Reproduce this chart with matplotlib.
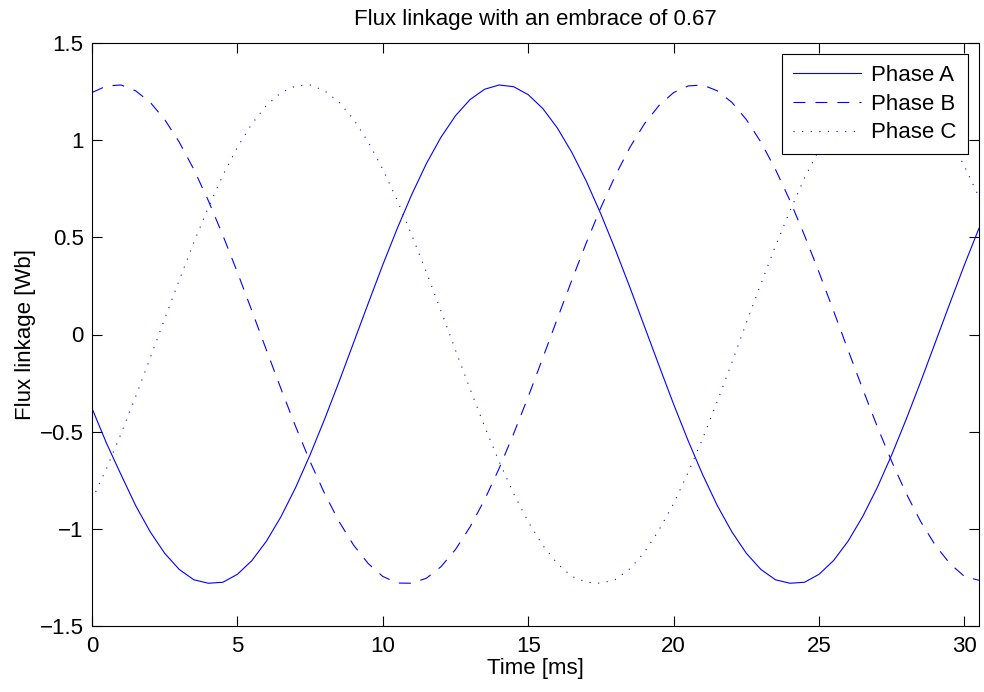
#!/usr/bin/env python
# coding: utf-8

import matplotlib
matplotlib.use('Agg')
import matplotlib.pyplot as plt
from matplotlib.ticker import FuncFormatter, FixedLocator

time_ms = [0.0, 0.5, 1.0, 1.5, 2.0, 2.5, 3.0, 3.5, 4.0, 4.5,
           5.0, 5.5, 6.0, 6.5, 7.0, 7.5, 8.0, 8.5, 9.0, 9.5,
           10.0, 10.5, 11.0, 11.5, 12.0, 12.5, 13.0, 13.5, 14.0, 14.5,
           15.0, 15.5, 16.0, 16.5, 17.0, 17.5, 18.0, 18.5, 19.0, 19.5,
           20.0, 20.5, 21.0, 21.5, 22.0, 22.5, 23.0, 23.5, 24.0, 24.5,
           25.0, 25.5, 26.0, 26.5, 27.0, 27.5, 28.0, 28.5, 29.0, 29.5,
           30.0, 30.5]

# flux linkage [Wb]
phase_a = [-0.380, -0.560, -0.722, -0.880, -1.015, -1.126, -1.209, -1.262, -1.280, -1.275,
           -1.234, -1.163, -1.063, -0.937, -0.788, -0.619, -0.435, -0.241, -0.040, 0.161,
           0.359, 0.547, 0.722, 0.880, 1.015, 1.126, 1.209, 1.262, 1.284, 1.275,
           1.234, 1.163, 1.063, 0.937, 0.788, 0.619, 0.435, 0.241, 0.040, -0.161,
           -0.359, -0.547, -0.722, -0.880, -1.015, -1.126, -1.209, -1.262, -1.280, -1.275,
           -1.234, -1.163, -1.063, -0.937, -0.788, -0.619, -0.435, -0.241, -0.040, 0.161,
           0.359, 0.547]

phase_b = [1.245, 1.279, 1.284, 1.254, 1.195, 1.106, 0.990, 0.850, 0.689, 0.510,
           0.320, 0.121, -0.081, -0.280, -0.473, -0.654, -0.819, -0.964, -1.085, -1.179,
           -1.245, -1.279, -1.280, -1.254, -1.195, -1.106, -0.990, -0.850, -0.689, -0.510,
           -0.320, -0.121, 0.081, 0.280, 0.473, 0.654, 0.819, 0.964, 1.085, 1.179,
           1.245, 1.279, 1.284, 1.254, 1.195, 1.106, 0.990, 0.850, 0.689, 0.510,
           0.320, 0.121, -0.081, -0.280, -0.473, -0.654, -0.819, -0.964, -1.085, -1.179,
           -1.245, -1.265]

phase_c = [-0.850, -0.689, -0.510, -0.320, -0.121, 0.081, 0.280, 0.473, 0.654, 0.819,
           0.964, 1.085, 1.179, 1.245, 1.279, 1.284, 1.254, 1.195, 1.106, 0.990,
           0.850, 0.689, 0.510, 0.320, 0.121, -0.081, -0.280, -0.473, -0.654, -0.819,
           -0.964, -1.085, -1.179, -1.245, -1.275, -1.280, -1.260, -1.205, -1.120, -1.005,
           -0.870, -0.710, -0.535, -0.345, -0.145, 0.060, 0.260, 0.455, 0.636, 0.805,
           0.950, 1.075, 1.170, 1.240, 1.277, 1.284, 1.258, 1.203, 1.118, 1.005,
           0.866, 0.708]

x_ticks = [0, 5, 10, 15, 20, 25, 30]
y_ticks = [-1.5, -1, -0.5, 0, 0.5, 1, 1.5]
labels = ['Phase A', 'Phase B', 'Phase C']


def fmt_tick(v, pos):
    return ('%g' % v).replace('-', '\u2212')


def main():
    plt.rcParams['font.family'] = ['Liberation Sans', 'DejaVu Sans']
    plt.rcParams['lines.scale_dashes'] = False
    fs = 16

    fig = plt.figure(figsize=(9.84, 6.92), dpi=100)
    ax = fig.add_axes([92 / 984, 66 / 692, 887 / 984, 583 / 692])

    ax.plot(time_ms, phase_a, color='blue', lw=0.8, ls='-', label=labels[0])
    ax.plot(time_ms, phase_b, color='blue', lw=0.8, ls=(0, (8.6, 7.2)), label=labels[1])
    ax.plot(time_ms, phase_c, color='blue', lw=0.8, ls=(0, (0.8, 5.4)), label=labels[2])

    ax.set_xlim(0, 30.5)
    ax.set_ylim(-1.5, 1.5)
    ax.xaxis.set_major_locator(FixedLocator(x_ticks))
    ax.yaxis.set_major_locator(FixedLocator(y_ticks))
    ax.xaxis.set_major_formatter(FuncFormatter(fmt_tick))
    ax.yaxis.set_major_formatter(FuncFormatter(fmt_tick))
    ax.tick_params(direction='in', length=7.2, width=0.8, top=True, right=True,
                   labelsize=fs, colors='black')
    ax.tick_params(axis='x', pad=7)
    ax.tick_params(axis='y', pad=6)
    for s in ax.spines.values():
        s.set_linewidth(0.8)
        s.set_color('black')

    ax.set_xlabel('Time [ms]', fontsize=fs, labelpad=1)
    ax.set_ylabel('Flux linkage [Wb]', fontsize=fs, labelpad=3)
    ax.set_title('Flux linkage with an embrace of 0.67', fontsize=fs, pad=13)

    leg = ax.legend(loc='upper right', fontsize=fs, fancybox=False, framealpha=1,
                    edgecolor='black', handlelength=3.06, handletextpad=0.45,
                    borderpad=0.5, labelspacing=0.34, borderaxespad=0.5)
    leg.get_frame().set_linewidth(0.8)

    fig.savefig('out.png', dpi=100)


if __name__ == '__main__':
    main()
